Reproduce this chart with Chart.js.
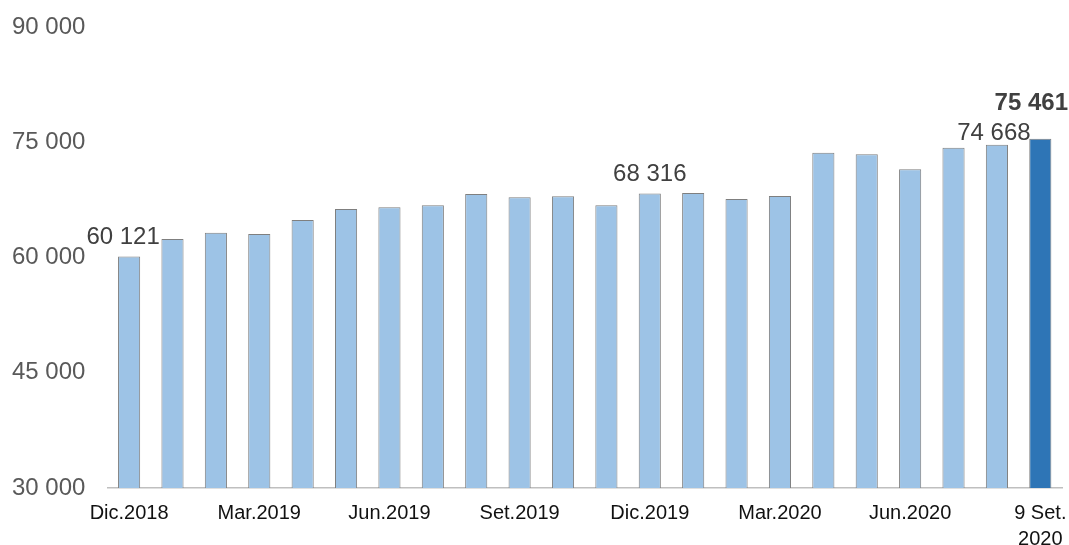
<!DOCTYPE html>
<html>
<head>
<meta charset="utf-8">
<script src="https://cdn.jsdelivr.net/npm/chart.js@4/dist/chart.umd.min.js"></script>
<style>
  html, body { margin: 0; padding: 0; background: #fff; overflow: hidden; }
  #outer { width: 1069px; height: 545px; overflow: hidden; }
  #wrap { position: relative; width: 1069px; height: 564px; }
</style>
</head>
<body>
<div id="outer"><div id="wrap"><canvas id="myChart"></canvas></div></div>
<script>
// meses (dic.2018 - 9 set.2020)
const categories = ["Dic.2018", "Ene.2019", "Feb.2019", "Mar.2019", "Abr.2019", "May.2019",
  "Jun.2019", "Jul.2019", "Ago.2019", "Set.2019", "Oct.2019", "Nov.2019",
  "Dic.2019", "Ene.2020", "Feb.2020", "Mar.2020", "Abr.2020", "May.2020",
  "Jun.2020", "Jul.2020", "Ago.2020", "9 Set. 2020"];
const values = [60121, 62400, 63230, 63060, 64880, 66300,
  66530, 66790, 68260, 67830, 67960, 66790,
  68316, 68400, 67600, 68000, 73640, 73430,
  71480, 74290, 74668, 75461];
// etiquetas visibles del eje x (cada 3 meses)
const tickLabels = ["Dic.2018", "Mar.2019", "Jun.2019", "Set.2019", "Dic.2019",
  "Mar.2020", "Jun.2020", ["9 Set.", "2020"]];
const yTicks = [30000, 45000, 60000, 75000, 90000];
// barras con valor escrito
const labeled = [0, 12, 20, 21];

const fmt = v => String(v).replace(/\B(?=(\d{3})+(?!\d))/g, " ");

const barColors = values.map((v, i) => i == values.length - 1 ? "#2e75b6" : "#9dc3e6");

const valueLabels = {
  id: "valueLabels",
  afterDatasetsDraw(chart) {
    const ctx = chart.ctx;
    const meta = chart.getDatasetMeta(0);
    ctx.save();
    ctx.fillStyle = "#404040";
    ctx.textBaseline = "alphabetic";
    labeled.forEach(i => {
      const bar = meta.data[i];
      let dx = 0, gap = 13, bold = false;
      if (i == 0) dx = -6;
      if (i == 20) { dx = -3; gap = 5; }
      if (i == 21) { dx = -9; gap = 29; bold = true; }
      ctx.font = (bold ? "bold " : "") + "24px 'Liberation Sans', Arial, sans-serif";
      ctx.textAlign = "center";
      ctx.fillText(fmt(values[i]), bar.x + dx, bar.y - gap);
    });
    ctx.restore();
  }
};

const ctx = document.getElementById('myChart');

new Chart(ctx, {
  type: 'bar',
  data: {
    labels: categories,
    datasets: [{
      data: values,
      backgroundColor: barColors,
      borderColor: '#7f7f7f',
      borderWidth: { top: 1, left: 1, right: 1, bottom: 0 },
      categoryPercentage: 1,
      barPercentage: 0.51
    }]
  },
  options: {
    responsive: true,
    maintainAspectRatio: false,
    animation: false,
    devicePixelRatio: 1,
    layout: { padding: { left: 12, top: 27, right: 7, bottom: 0 } },
    plugins: {
      legend: { display: false },
      tooltip: { enabled: false }
    },
    scales: {
      x: {
        grid: { display: false, drawTicks: false },
        border: { display: true, color: '#bfbfbf', width: 1.5 },
        afterFit: axis => { axis.paddingLeft = 0; axis.paddingRight = 0; },
        ticks: {
          autoSkip: false,
          maxRotation: 0,
          padding: 12,
          color: '#111111',
          font: { family: "'Liberation Sans', Arial, sans-serif", size: 20, lineHeight: 1.3 },
          callback: (v, i) => i % 3 == 0 ? tickLabels[i / 3] : ''
        }
      },
      y: {
        min: yTicks[0],
        max: yTicks[yTicks.length - 1],
        afterBuildTicks: axis => { axis.ticks = yTicks.map(v => ({ value: v })); },
        grid: { display: false, drawTicks: false },
        border: { display: false },
        ticks: {
          padding: 11,
          crossAlign: 'far',
          color: '#595959',
          font: { family: "'Liberation Sans', Arial, sans-serif", size: 24 },
          callback: v => fmt(v)
        }
      }
    }
  },
  plugins: [valueLabels]
});
</script>
</body>
</html>
